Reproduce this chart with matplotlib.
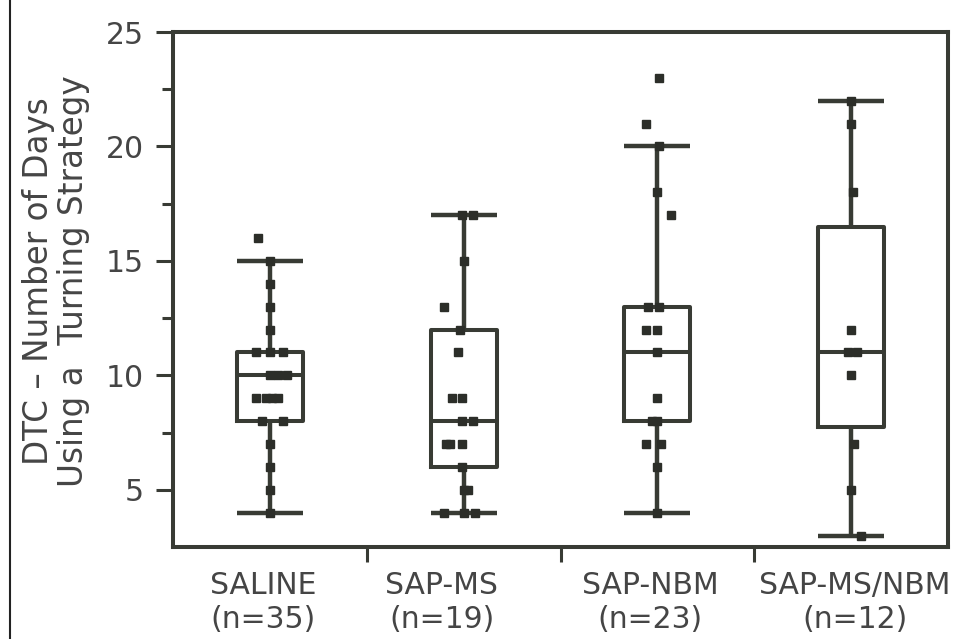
import matplotlib
matplotlib.use("Agg")
import matplotlib.pyplot as plt
from matplotlib.lines import Line2D
from matplotlib.transforms import ScaledTranslation

plt.rcParams['font.family'] = ['DejaVu Sans']

# ---------------- data ----------------
categories = ["SALINE\n(n=35)", "SAP-MS\n(n=19)", "SAP-NBM\n(n=23)", "SAP-MS/NBM\n(n=12)"]

# box statistics
q1 = [8, 6, 8, 7.75]
median = [10, 8, 11, 11]
q3 = [11, 12, 13, 16.5]
whisker_low = [4, 4, 4, 3]
whisker_high = [15, 17, 20, 22]

# individual observations
saline_vals = [16, 15, 14, 13, 12, 11, 11, 11, 10, 10, 10, 9, 9, 9, 9, 8, 8, 7, 6, 5, 4]
sapms_vals = [17, 17, 15, 13, 12, 11, 9, 9, 8, 8, 7, 7, 7, 6, 5, 5, 4, 4, 4]
sapnbm_vals = [23, 21, 20, 18, 17, 13, 13, 12, 12, 11, 9, 8, 8, 7, 7, 6, 4]
sapmsnbm_vals = [22, 21, 18, 12, 11, 11, 10, 7, 5, 3]

# horizontal jitter of the observations (category units)
saline_dx = [-0.06, 0, 0, 0, 0, -0.07, 0, 0.07, 0, 0.04, 0.09, -0.07, -0.02, 0.01, 0.04, -0.04, 0.07, 0, 0, 0, 0]
sapms_dx = [-0.01, 0.05, 0, -0.10, -0.02, -0.03, -0.06, -0.01, -0.01, 0.05, -0.09, -0.07, -0.01, -0.01, 0, 0.02, -0.10, 0.06, 0]
sapnbm_dx = [0.01, -0.06, 0.01, 0, 0.07, -0.05, 0.01, -0.06, 0, 0, 0, -0.03, 0, -0.06, 0.02, 0, 0]
sapmsnbm_dx = [0, 0, 0.01, 0, -0.015, 0.03, 0, 0.015, 0, 0.05]

groups = [saline_vals, sapms_vals, sapnbm_vals, sapmsnbm_vals]
jitters = [saline_dx, sapms_dx, sapnbm_dx, sapmsnbm_dx]

yticks = [5, 10, 15, 20, 25]
yminor = [7.5, 12.5, 17.5, 22.5]
ylabel = "DTC \u2013 Number of Days\nUsing a  Turning Strategy"

# ---------------- style ----------------
line_col = '#383b34'
text_col = '#454545'

fig = plt.figure(figsize=(9.61, 6.39), dpi=100)
ax = fig.add_axes([173/961, 1 - 547/639, (948 - 173)/961, (547 - 32)/639])

positions = list(range(len(categories)))
stats = []
for i in positions:
    stats.append(dict(med=median[i], q1=q1[i], q3=q3[i],
                      whislo=whisker_low[i], whishi=whisker_high[i], fliers=[]))

lp = dict(color=line_col, linewidth=3.2, solid_capstyle='butt')
ax.bxp(stats, positions=positions, widths=0.34, capwidths=0.34, showfliers=False,
       boxprops=dict(color=line_col, linewidth=2.9),
       medianprops=dict(color=line_col, linewidth=2.9),
       whiskerprops=lp, capprops=lp)

for i, (vals, dx) in enumerate(zip(groups, jitters)):
    xs = [positions[i] + d for d in dx]
    ax.plot(xs, vals, linestyle='none', marker='s', markersize=5.5,
            color='#2c2e29', zorder=5)

ax.set_xlim(-0.5, len(categories) - 0.5)
ax.set_ylim(2.5, 25)

ax.set_yticks(yticks)
ax.set_yticks(yminor, minor=True)
ax.set_xticks(positions)
ax.set_xticklabels(categories, linespacing=1.25)
ax.set_xticks([0.5, 1.5, 2.5], minor=True)

ax.tick_params(axis='y', which='major', length=12, width=2.2, color=line_col,
               labelsize=21.5, labelcolor=text_col, pad=9)
ax.tick_params(axis='y', which='minor', length=8, width=2.2, color=line_col)
ax.tick_params(axis='x', which='major', length=0, labelsize=21.5, labelcolor=text_col, pad=17)
ax.tick_params(axis='x', which='minor', length=11, width=2.2, color=line_col)

# small horizontal shifts of the category labels (pixels)
for lab, off in zip(ax.get_xticklabels(), [-7, -22, -7, 4]):
    lab.set_transform(lab.get_transform() + ScaledTranslation(off/100, 0, fig.dpi_scale_trans))

for sp in ax.spines.values():
    sp.set_color(line_col)
    sp.set_linewidth(2.9)

fig.text(56/961, 1 - 281/639, ylabel, rotation=90, ha='center', va='center',
         multialignment='center', fontsize=23.5, color=text_col, linespacing=1.1)

# frame line on the far left
fig.add_artist(Line2D([10/961, 10/961], [0, 1], transform=fig.transFigure,
                      color='#222222', linewidth=1.5))

fig.savefig("out.png", dpi=100)
